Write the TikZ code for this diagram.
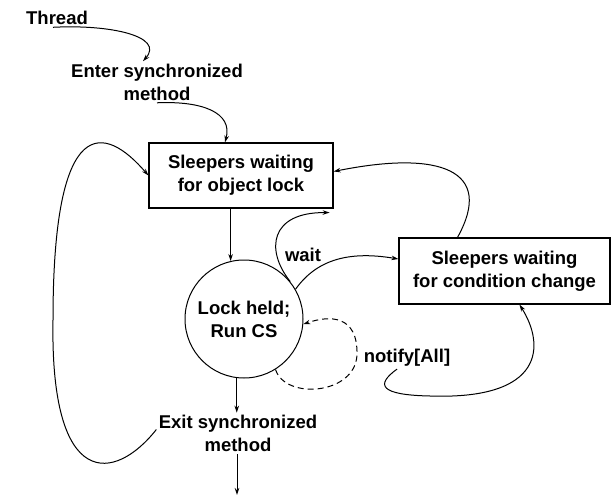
\documentclass[tikz,border=0pt]{standalone}
\usepackage{fontspec}
\setmainfont{Liberation Sans}
\usetikzlibrary{arrows.meta}

\begin{document}
\begin{tikzpicture}[x=1pt,y=-1pt,line width=1pt,>={Stealth[length=7pt,width=4.5pt]},
    font=\fontsize{18.5}{23}\selectfont\bfseries,
    st/.style={draw,line width=1.2pt,minimum width=184pt,minimum height=65pt,align=center,inner sep=0pt},
    lbl/.style={align=center,inner sep=2pt}]
  \useasboundingbox (0,0) rectangle (612,500);
  \node[lbl] (thr) at (57,18) {Thread};
  \node[lbl] (enter) at (157,82) {Enter synchronized\\method};
  \node[st] (lockq) at (241,175.5) {Sleepers waiting\\for object lock};
  \node[draw,circle,minimum size=118pt,align=center,inner sep=0pt] (run) at (244,319) {Lock held;\\Run CS};
  \node[st,minimum width=211pt,minimum height=66pt] (condq) at (504.5,271) {Sleepers waiting\\for condition change};
  \node[lbl] (exitm) at (238,433.5) {Exit synchronized\\method};
  \node[lbl] (wt) at (303,255) {wait};
  \node[lbl] (notif) at (407,358) {notify[All]};
  \coordinate (fin) at (237,495);
  \draw[->] ([xshift=-4pt]thr.south) .. controls +(57,-3) and +(22,-25) .. ([xshift=-14pt]enter.north);
  \draw[->] (enter.south) .. controls +(45,-2) and +(8,-30) .. ([xshift=-16pt]lockq.north);
  \draw[->] (lockq.south -| run.103) -- (run.103);
  \draw[->] (run.263) -- (run.263 |- exitm.north);
  \draw[->] (exitm.south -| fin) -- (fin);
  \draw[->] ([yshift=4pt]exitm.west) .. controls (115,482) and (50,492) .. (53,320)
    .. controls (53,110) and (105,125) .. (lockq.west);
  \draw[->] (run.39) .. controls (265,250) and (270,212) .. ([shift={(-4pt,-4pt)}]lockq.south east);
  \draw[->] (run.30) .. controls (315,262) and (345,250) .. ([yshift=12pt]condq.west);
  \draw[->] ([xshift=-47pt]condq.north) .. controls (495,170) and (440,150) .. ([yshift=4pt]lockq.east);
  \draw[->,dash pattern=on 6pt off 4pt] (run.-58) .. controls (285,400) and (355,395) .. (357,355)
    .. controls (358,315) and (330,315) .. (run.-5);
  \draw[->] ([xshift=-10pt]notif.south) .. controls (375,385) and (380,395) .. (430,396)
    .. controls (545,400) and (545,345) .. ([xshift=15pt]condq.south);
\end{tikzpicture}
\end{document}
